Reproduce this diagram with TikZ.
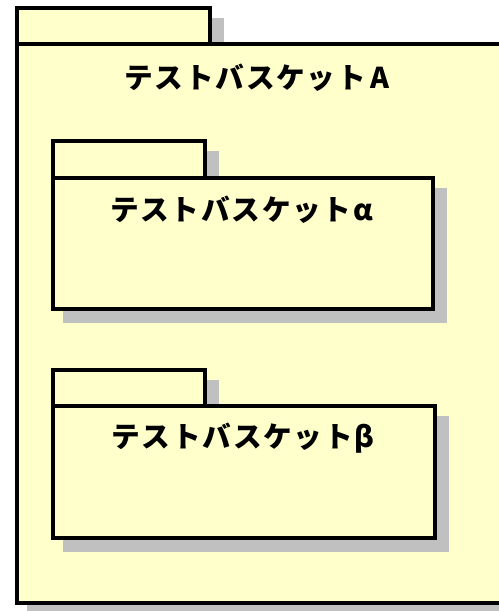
\documentclass[tikz,border=0pt]{standalone}
\usepackage{fontspec}
\newfontfamily\jpfont[LetterSpace=6]{Noto Sans CJK JP}
\definecolor{pkgfill}{HTML}{FFFFCC}
\definecolor{pkgshade}{HTML}{C0C0C0}
\begin{document}
\begin{tikzpicture}[x=0.75pt,y=-0.75pt,
	pkg/.style={draw=black, fill=pkgfill, line width=3pt},
	shade/.style={draw=pkgshade, fill=pkgshade, line width=3pt},
	title/.style={font=\jpfont\bfseries\fontsize{21.5}{26}\selectfont, inner sep=0pt}]
		\useasboundingbox (0,0) rectangle (499,611);
		\clip (0,0) rectangle (499,611);
		
		% outer package
		\draw[shade] (29, 19.5) rectangle (222, 55.5);
		\draw[shade] (29, 55.5) rectangle (532, 614.5);
		\draw[pkg] (17, 7.5) rectangle (210, 43.5);
		\draw[pkg] (17, 43.5) rectangle (520, 602.5);
		\node[title] (pkgA) at (257, 78) {テストバスケット\kern3.5pt A};
		
		% package alpha
		\draw[shade] (65, 153.3) rectangle (216.7, 190);
		\draw[shade] (65, 190) rectangle (444.5, 321);
		\draw[pkg] (53, 141.3) rectangle (204.7, 178);
		\draw[pkg] (53, 178) rectangle (432.5, 309);
		\node[title] (pkgAlpha) at (241.5, 210) {テストバスケットα};
		
		% package beta
		\draw[shade] (65, 381.5) rectangle (217.3, 417.5);
		\draw[shade] (65, 417.5) rectangle (446.5, 549.5);
		\draw[pkg] (53, 369.5) rectangle (205.3, 405.5);
		\draw[pkg] (53, 405.5) rectangle (434.5, 537.5);
		\node[title] (pkgBeta) at (243, 438) {テストバスケットβ};
\end{tikzpicture}
\end{document}
